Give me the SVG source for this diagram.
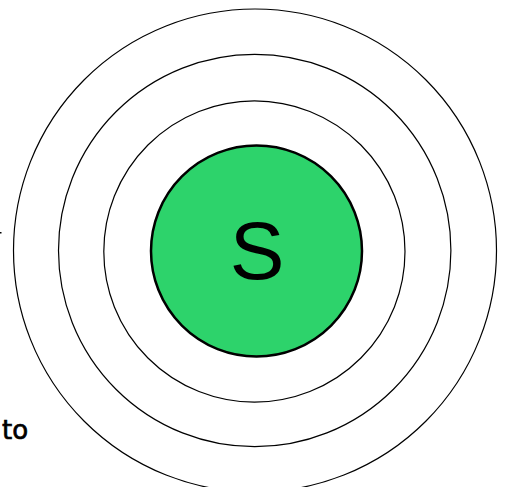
<svg xmlns="http://www.w3.org/2000/svg" width="507" height="487" viewBox="0 0 507 487">
<style>
.ring{fill:none;stroke:#000;stroke-width:1.2}
.core{fill:#2dd36b;stroke:#000;stroke-width:2.5}
.lbl{font-family:"Liberation Sans",Arial,sans-serif;font-size:82px;fill:#000}
.side{font-family:"DejaVu Sans",sans-serif;font-size:26px;fill:#000;stroke:#000;stroke-width:0.7}
</style>
<rect width="507" height="487" fill="#fff"/>
<g id="rings">
<circle id="ring3" class="ring" cx="255" cy="250.5" r="241.5"/>
<circle id="ring2" class="ring" cx="254.7" cy="250.5" r="196.2"/>
<circle id="ring1" class="ring" cx="254.4" cy="251.5" r="150.6"/>
</g>
<g id="source">
<circle class="core" cx="256.5" cy="251" r="105.5"/>
<text class="lbl" x="257" y="279" text-anchor="middle">S</text>
</g>
<g id="labels">
<text class="side" x="2" y="439">to</text>
<rect x="0" y="232" width="1.5" height="1.5" fill="#000"/>
</g>
</svg>
